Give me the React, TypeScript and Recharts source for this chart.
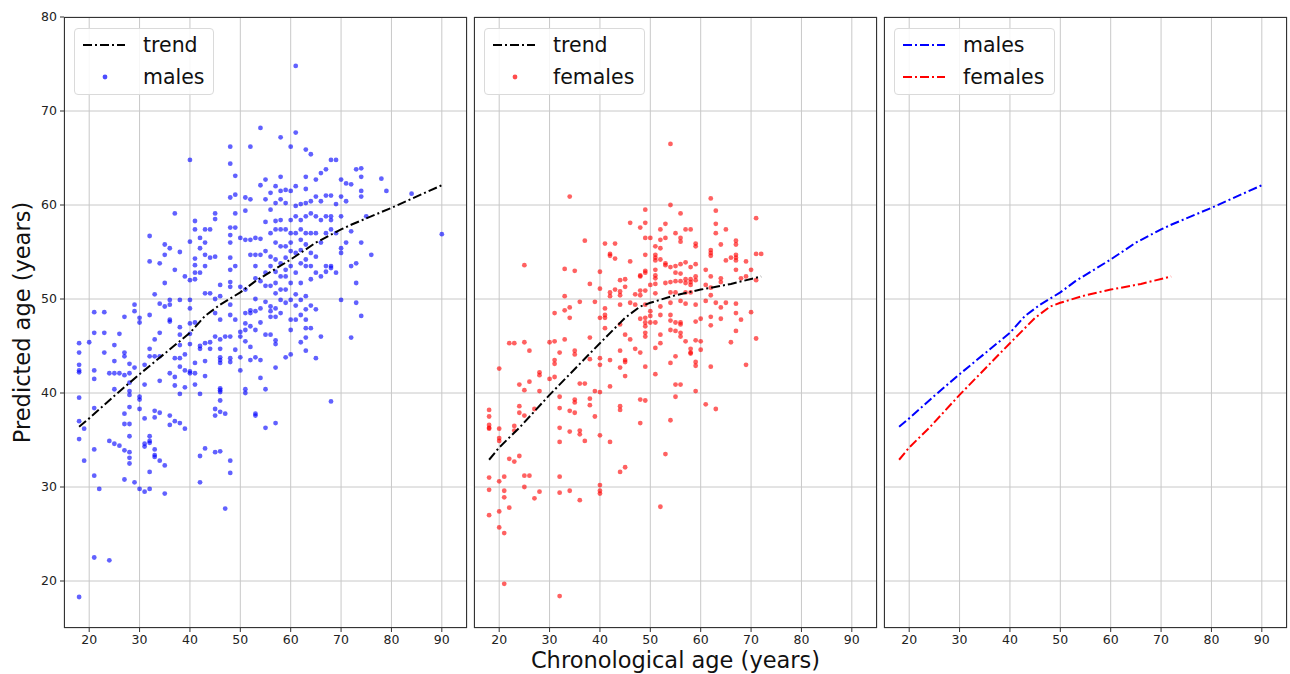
import React from "react";
import { ScatterChart, Scatter, XAxis, YAxis, CartesianGrid, Legend } from "recharts";

const xTicks = [20, 30, 40, 50, 60, 70, 80, 90];
const yTicks = [20, 30, 40, 50, 60, 70, 80];

const maleTrendAge = [18, 20, 25, 30, 35, 40, 43, 46, 50, 53, 60, 65, 70, 72, 80, 90];
const maleTrendPred = [36.4, 37.3, 39.7, 42, 44.2, 46.4, 48.2, 49.4, 50.7, 51.9, 54.2, 56, 57.4, 57.9, 59.7, 62.1];

const femaleTrendAge = [18, 20, 24, 30, 34, 40, 45, 48, 50, 55, 60, 66, 72];
const femaleTrendPred = [32.9, 34.2, 36.3, 39.8, 42, 45.3, 48, 49.2, 49.6, 50.4, 51, 51.6, 52.4];

// [chronological age, predicted ages at that age]
const malePoints: [number, number[]][] = [
  [18, [45.3, 44.3, 43, 42.4, 42.2, 39.5, 37, 35.1, 18.3]],
  [19, [36.2, 32.8]],
  [20, [45.4]],
  [21, [48.6, 46.4, 42.4, 41.5, 38.4, 34, 31.2, 22.5]],
  [22, [29.8]],
  [23, [48.6, 46.4, 44.3]],
  [24, [42.1, 34.9, 22.2]],
  [25, [45.1, 43.4, 42.1, 40.4, 34.6]],
  [26, [46.3, 42.1, 34.4]],
  [27, [48.1, 44.3, 43.9, 41.9, 37.8, 36.7, 33.9, 30.8]],
  [28, [43.1, 42.1, 41.1, 40.2, 39.8, 38.5, 36.7, 35.4, 33.7, 33.1, 32.5]],
  [29, [49.4, 48.7, 42.7, 30.5]],
  [30, [48, 47.5, 39.6, 39.3, 38.3, 29.8]],
  [31, [43, 40.9, 37.3, 34.6, 34.3, 29.5]],
  [32, [56.7, 54, 48.3, 44.7, 43.9, 35.4, 34.9, 34.7, 31.6, 29.8]],
  [33, [50.5, 45.7, 43.9, 38.1, 37.4, 34, 33.4, 33.2]],
  [34, [53.8, 49.5, 46.4, 43.9, 41.3, 37.9, 32.8]],
  [35, [55.8, 54.7, 51.7, 49.2, 32.3, 29.3]],
  [36, [55.4, 49.9, 49.4, 47.8, 47.6, 42.1, 37.6, 36.6]],
  [37, [59.1, 53.1, 43.7, 41.7, 40.8, 37]],
  [38, [55, 49.9, 47, 46.2, 45.1, 43.7, 42.8, 39.9, 36.8]],
  [39, [52.4, 44.1, 42.4, 40.6, 36.2]],
  [40, [64.8, 56.1, 52, 49.9, 49, 47.4, 46.3, 45.2, 42.3, 42.1]],
  [41, [58.3, 57.4, 54.3, 53.6, 52.8, 52.1, 47.5, 43.2, 42.1, 40.9]],
  [42, [56.5, 55.4, 52.8, 45, 44.7, 39.9, 33.3, 30.5]],
  [43, [57.4, 56, 54.7, 53.5, 50.6, 45.3, 43.4, 41.8, 34.1]],
  [44, [57.4, 54.4, 50.6, 45.4, 44.7]],
  [45, [59.1, 58.5, 54.5, 50, 48.5, 46, 38.3, 37.6, 33.7]],
  [46, [51.5, 50.3, 47.8, 45.7, 44.7, 43.8, 43.5, 43.2, 40.5, 40.3, 40.1, 39.2, 38, 33.8]],
  [47, [46, 37.8, 27.7]],
  [48, [66.2, 64.4, 60.8, 57.6, 56.8, 56, 54.4, 53.1, 51.8, 51.3, 49.4, 48.3, 46, 43.7, 43.3, 32.8, 31.5]],
  [49, [63.1, 61.1, 59.1, 57.6, 53.5, 47.8, 44.6]],
  [50, [56.5, 51.3, 46.5, 46, 43.8, 42.4]],
  [51, [60.8, 59.4, 56.3, 51, 48.5, 47.4, 46.7, 45.5, 40.4, 40]],
  [52, [66.2, 60.6, 56.3, 54.7, 48.8, 48.5, 47.1, 44.9, 43.5]],
  [53, [56.5, 54.7, 53.5, 52.2, 50, 48.7, 46.7, 43.8, 37.8, 37.6]],
  [54, [68.2, 62.1, 56.4, 54.7, 51.9, 49, 47.5, 43.5, 41.6]],
  [55, [62.7, 60.6, 58.2, 55.1, 52.8, 51.4, 49.7, 46.2, 40.4, 36.3]],
  [56, [61.3, 59.5, 57, 54.5, 53.5, 51.4, 49.2, 48.7, 48.1, 46.2]],
  [57, [62, 60.2, 58.3, 57.4, 56, 54.2, 52.9, 51.7, 50.6, 49, 48.1, 45.6, 45.2, 42.7, 36.8]],
  [58, [67.2, 63, 61.5, 60.6, 58.4, 57.4, 55.6, 53.8, 52.4, 51, 49.9, 48.5]],
  [59, [61.6, 60.2, 57.4, 55.6, 54.4, 53.1, 52.4, 51, 49.6, 43.8]],
  [60, [66.2, 61.5, 58.4, 57, 56, 55.1, 53.5, 51.7, 49.9, 47.8, 46.7, 44.1]],
  [61, [74.8, 67.7, 62, 59.9, 58.8, 57, 54.9, 52.8, 50.5, 49.3, 47.8]],
  [62, [60.1, 58.4, 57.4, 56.3, 55.2, 53.8, 51.7, 49.9, 48.3, 45.4]],
  [63, [65.9, 63, 61.7, 60.2, 58.8, 57, 55.8, 54.2, 53.5, 50.3, 48.9, 47.8, 46.9, 45.9, 44.5]],
  [64, [65.4, 60.4, 59.1, 57, 54.9, 53.5, 52.1, 49.3, 46.9]],
  [65, [62.7, 60.9, 58.8, 57, 54.5, 52.8, 48.9, 43.7]],
  [66, [63.4, 60.4, 58.4, 56, 52.4, 46]],
  [67, [63.8, 61, 58.8, 57, 53.5, 52.9]],
  [68, [64.8, 61, 58.8, 58.4, 57.4, 53.5, 53.3, 39.1]],
  [69, [64.8, 60.1, 57, 52.8]],
  [70, [62.7, 60.9, 58.8, 55.4, 54.9, 49.9]],
  [71, [62.3, 60.4, 56]],
  [72, [62.2, 57.2, 53.5, 45.9]],
  [73, [63.8, 53.8, 51.7, 49.6]],
  [74, [63.9, 63, 61.5, 60.9, 56, 48.2]],
  [75, [58.8]],
  [76, [54.7]],
  [78, [62.8]],
  [79, [61.5]],
  [84, [61.2]],
  [90, [56.9]],
];

const femalePoints: [number, number[]][] = [
  [18, [38.2, 37.5, 36.6, 36.3, 36.2, 31, 29.7, 27]],
  [20, [42.6, 36.2, 35.2, 34.9, 30.6, 27.4, 25.7]],
  [21, [31.1, 29.6, 28.9, 25.1, 19.7]],
  [22, [45.3, 33, 27.8]],
  [23, [45.3, 36.5, 36, 32.7]],
  [24, [40.9, 38.6, 37.9, 33.3]],
  [25, [53.6, 45.4, 40.3, 37.6, 31.2, 30]],
  [26, [44.5, 41.2, 31.2]],
  [27, [38.3, 28.8]],
  [28, [42.2, 41.9, 40.2, 29.5]],
  [30, [45.4, 41.5]],
  [31, [48.5, 45.5, 43.5, 43.1, 41.7]],
  [32, [44.3, 39.6, 38.4, 36.3, 34.8, 31.1, 29.4, 18.4]],
  [33, [53.2, 50.3, 48.8, 45.7]],
  [34, [60.9, 49.1, 48, 38.1, 35.9, 29.6]],
  [35, [53, 44.5, 44.1, 39.3, 39, 37.9]],
  [36, [49.7, 41, 36, 35.6, 28.6]],
  [37, [56.2, 41, 34.9]],
  [38, [51.6, 45.9, 43.6, 39.4, 38.7]],
  [39, [49.7, 40.2, 37.5]],
  [40, [52.9, 51.1, 48, 43.7, 43, 40.1, 35.5, 30.2, 29.6, 29.3]],
  [41, [55.9, 49, 48.3, 48, 46.9]],
  [42, [54.8, 54.6, 50.7, 50.3, 43.5, 40.7, 34.8]],
  [43, [55.9, 54.3, 51]],
  [44, [52, 50.8, 50.4, 49.4, 47.3, 44.5, 42.7, 38.6, 38.2, 31.6]],
  [45, [52.1, 51.3, 46.2, 43.5, 43.3, 41.8, 32.1]],
  [46, [58.1, 54, 49.6, 45.7]],
  [47, [50.5, 49.4, 44.7]],
  [48, [57.6, 52.5, 52.4, 50.9, 50.4, 47.9, 44.3, 39.3, 36.8]],
  [49, [59.5, 58.1, 56.5, 54.7, 53, 52.8, 50.9, 49.4, 48, 47.5, 47.1, 46.4, 46, 42.8, 39.2]],
  [50, [56.5, 51.5, 48.7, 48.2, 47.5]],
  [51, [55.6, 54.7, 54.4, 54.1, 53.1, 52.5, 52.2, 51.6, 50.6, 47.5, 44.8, 42]],
  [52, [57.4, 56.3, 55.4, 54.2, 49.2, 48.3, 46.2, 45.3, 27.9]],
  [53, [58, 56.5, 53.8, 53.6, 51.7, 33.5]],
  [54, [66.5, 60, 53.4, 51.8, 50.7, 49.6, 48.3, 47.7, 46.7, 43.2, 37.1]],
  [55, [57, 53.5, 52.8, 51.9, 50.7, 47.5, 46.6, 43.9, 40.9, 39.6]],
  [56, [59.1, 56.5, 56.1, 53.7, 52.7, 51.9, 49.8, 47.5, 47.3, 46.4, 46, 40.9]],
  [57, [57.4, 53.9, 52.1, 51.7, 50.7, 49.5, 45.5]],
  [58, [57.4, 53.4, 52.1, 51.8, 51.5, 50.7, 44.7, 44.3, 44.2]],
  [59, [55.9, 55.6, 53.7, 52.4, 52, 49.4, 47.6, 45.6, 43.3, 42.9, 40.2]],
  [60, [47.9, 45.5, 44.6]],
  [61, [53.1, 51.5, 49.8, 38.8]],
  [62, [60.7, 55.2, 54.9, 54.6, 52.4, 51.2, 50.4, 48.1, 47.2, 42.8]],
  [63, [59.4, 58, 57, 49.6, 38.3]],
  [64, [55.8, 52.2, 51.8, 49.1, 47.9]],
  [65, [57.4, 54.1, 49.6]],
  [66, [54.4, 45.4]],
  [67, [56.2, 55.8, 54.7, 54.4, 54.1, 53.1, 49.5, 48.5, 46.6]],
  [68, [52.2, 47.8]],
  [69, [54, 52.4, 43]],
  [70, [53.1, 48.6]],
  [71, [58.6, 54.8, 52, 45.8]],
  [72, [54.8]],
];

type Pt = { age: number; pred: number };

const flatten = (groups: [number, number[]][]): Pt[] =>
  groups.flatMap(([age, preds]) => preds.map((pred) => ({ age, pred })));
const zip = (ages: number[], preds: number[]): Pt[] => ages.map((age, i) => ({ age, pred: preds[i] }));

const maleScatter = flatten(malePoints);
const femaleScatter = flatten(femalePoints);
const maleTrend = zip(maleTrendAge, maleTrendPred);
const femaleTrend = zip(femaleTrendAge, femaleTrendPred);

const FONT = "'DejaVu Sans', sans-serif";
const DASH = "9 3 2 3";
const PLOT_W = 403;
const PLOT_TOP = 17;
const PLOT_BOTTOM = 628;

type LegendItem = { label: string; color: string; kind: "line" | "dot" };

function LegendBox({ items, width }: { items: LegendItem[]; width: number }) {
  return (
    <div
      style={{
        position: "relative",
        width,
        height: 67,
        boxSizing: "border-box",
        border: "1px solid #dadada",
        borderRadius: 4,
        background: "rgba(255,255,255,0.85)",
        fontFamily: FONT,
        fontSize: 20.5,
        color: "#111",
      }}
    >
      {items.map((it, i) => (
        <div
          key={it.label}
          style={{ position: "absolute", left: 0, top: i * 32, height: 32, display: "flex", alignItems: "center" }}
        >
          <svg width={68} height={32} style={{ display: "block" }}>
            {it.kind === "line" ? (
              <line x1={8} x2={50} y1={16} y2={16} stroke={it.color} strokeWidth={2} strokeDasharray={DASH} />
            ) : (
              <circle cx={30} cy={16} r={2.4} fill={it.color} fillOpacity={0.7} />
            )}
          </svg>
          <span style={{ lineHeight: "32px" }}>{it.label}</span>
        </div>
      ))}
    </div>
  );
}

// shared y axis: inner panels keep tick marks and grid, but no labels
const NoLabel = () => <g />;

type PanelProps = {
  plotLeft: number;
  showY?: boolean;
  showXTitle?: boolean;
  dots?: { data: Pt[]; color: string };
  trends: { data: Pt[]; color: string }[];
  legend: LegendItem[];
  legendWidth: number;
};

function Panel({ plotLeft, showY, showXTitle, dots, trends, legend, legendWidth }: PanelProps) {
  const ml = showY ? 0 : 6;
  const yw = showY ? 64 : 0;
  const width = ml + yw + PLOT_W + 1;
  const tickStyle = { fontSize: 12.5, fill: "#222", fontFamily: FONT };
  return (
    <div style={{ position: "absolute", left: plotLeft - ml - yw, top: 0 }}>
      <ScatterChart width={width} height={674} margin={{ top: PLOT_TOP, right: 1, bottom: 0, left: ml }}>
        <CartesianGrid stroke="#c8c8c8" strokeWidth={1} />
        <XAxis
          type="number"
          dataKey="age"
          domain={[15, 95]}
          ticks={xTicks}
          interval={0}
          height={674 - PLOT_BOTTOM}
          axisLine={false}
          tickSize={4}
          tickMargin={3}
          tickLine={{ stroke: "#333" }}
          tick={tickStyle}
          label={
            showXTitle
              ? {
                  value: "Chronological age (years)",
                  position: "insideBottom",
                  offset: 6,
                  style: { fontSize: 22.5, fill: "#111", fontFamily: FONT },
                }
              : undefined
          }
        />
        <YAxis
          type="number"
          dataKey="pred"
          domain={[15, 80]}
          ticks={yTicks}
          interval={0}
          width={yw}
          axisLine={false}
          tickSize={4}
          tickMargin={3}
          tickLine={{ stroke: "#333" }}
          tick={showY ? tickStyle : NoLabel}
          label={
            showY
              ? {
                  value: "Predicted age (years)",
                  angle: -90,
                  position: "insideLeft",
                  offset: 22,
                  style: { fontSize: 22.5, fill: "#111", fontFamily: FONT, textAnchor: "middle" },
                }
              : undefined
          }
        />
        {dots && (
          <Scatter
            data={dots.data}
            isAnimationActive={false}
            legendType="none"
            shape={(p: any) => <circle cx={p.cx} cy={p.cy} r={2.4} fill={dots.color} fillOpacity={0.62} />}
          />
        )}
        {trends.map((t, i) => (
          <Scatter
            key={i}
            data={t.data}
            isAnimationActive={false}
            legendType="none"
            line={{ stroke: t.color, strokeWidth: 2, strokeDasharray: DASH }}
            shape={() => <g />}
          />
        ))}
        <Legend
          layout="vertical"
          align="center"
          verticalAlign="middle"
          wrapperStyle={{ left: ml + yw + 10, top: 28, width: legendWidth, height: 67 }}
          content={() => <LegendBox items={legend} width={legendWidth} />}
        />
      </ScatterChart>
    </div>
  );
}

function Frame({ left }: { left: number }) {
  return (
    <div
      style={{
        position: "absolute",
        left,
        top: PLOT_TOP,
        width: PLOT_W,
        height: PLOT_BOTTOM - PLOT_TOP,
        boxSizing: "border-box",
        border: "1.3px solid #333",
        pointerEvents: "none",
      }}
    />
  );
}

export default function App() {
  return (
    <div
      style={{
        position: "absolute",
        left: 0,
        top: 0,
        width: 1290,
        height: 674,
        background: "#fff",
        fontFamily: FONT,
        overflow: "hidden",
      }}
    >
      <Panel
        plotLeft={64}
        showY
        dots={{ data: maleScatter, color: "#0000ff" }}
        trends={[{ data: maleTrend, color: "#000" }]}
        legend={[
          { label: "trend", color: "#000", kind: "line" },
          { label: "males", color: "#0000ff", kind: "dot" },
        ]}
        legendWidth={140}
      />
      <Panel
        plotLeft={474}
        showXTitle
        dots={{ data: femaleScatter, color: "#ff0000" }}
        trends={[{ data: femaleTrend, color: "#000" }]}
        legend={[
          { label: "trend", color: "#000", kind: "line" },
          { label: "females", color: "#ff0000", kind: "dot" },
        ]}
        legendWidth={161}
      />
      <Panel
        plotLeft={884}
        trends={[
          { data: maleTrend, color: "#0000ff" },
          { data: femaleTrend, color: "#ff0000" },
        ]}
        legend={[
          { label: "males", color: "#0000ff", kind: "line" },
          { label: "females", color: "#ff0000", kind: "line" },
        ]}
        legendWidth={161}
      />
      <Frame left={64} />
      <Frame left={474} />
      <Frame left={884} />
    </div>
  );
}
